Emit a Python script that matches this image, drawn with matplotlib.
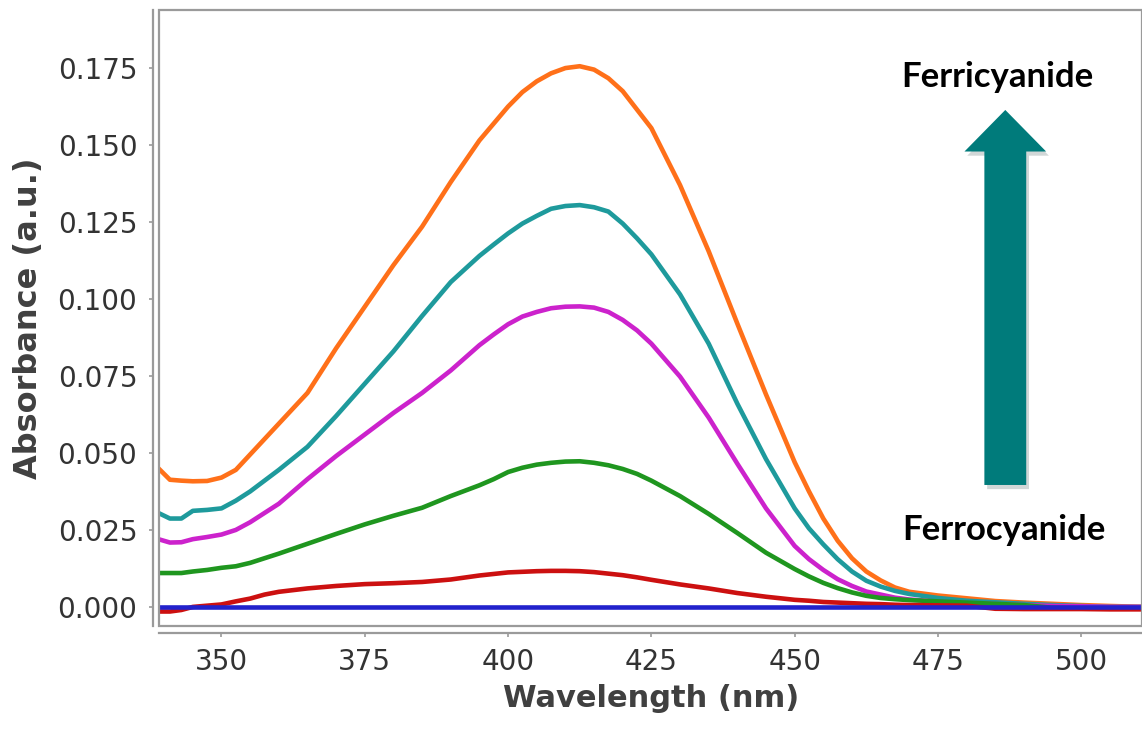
import numpy as np
import matplotlib
matplotlib.use("Agg")
import matplotlib.pyplot as plt
from matplotlib.patches import FancyArrow, Rectangle
import matplotlib.patheffects as pe

# wavelength grid (nm)
wl = [339, 341, 343, 345, 347.5, 350, 352.5, 355, 357.5, 360,
      365, 370, 375, 380, 385, 390, 395,
      397.5, 400, 402.5, 405, 407.5, 410, 412.5, 415, 417.5, 420, 422.5, 425,
      430, 435, 440, 445, 450,
      452.5, 455, 457.5, 460, 462.5, 465, 467.5, 470,
      475, 480, 485, 490, 495, 500, 505, 511]

orange = [0.045, 0.0413, 0.041, 0.0408, 0.0409, 0.042, 0.0445, 0.0495, 0.0545, 0.0595,
          0.0695, 0.084, 0.0975, 0.111, 0.1235, 0.138, 0.1515,
          0.157, 0.1625, 0.1672, 0.1707, 0.1733, 0.1750, 0.1756, 0.1745, 0.1717, 0.1675, 0.1615, 0.1555,
          0.137, 0.1155, 0.092, 0.069, 0.047,
          0.0375, 0.0287, 0.0215, 0.0158, 0.0115, 0.0086, 0.0063, 0.0049,
          0.0037, 0.0028, 0.0019, 0.0014, 0.001, 0.0006, 0.0003, 0.0]
teal = [0.0305, 0.0287, 0.0287, 0.0312, 0.0315, 0.032, 0.0345, 0.0375, 0.041, 0.0445,
        0.052, 0.062, 0.0725, 0.083, 0.0945, 0.1055, 0.114,
        0.1177, 0.1213, 0.1245, 0.127, 0.1293, 0.1302, 0.1305, 0.1298, 0.1284, 0.1245, 0.1197, 0.1145,
        0.1015, 0.0855, 0.066, 0.048, 0.032,
        0.0255, 0.0203, 0.0155, 0.0115, 0.0085, 0.0066, 0.0052, 0.0042,
        0.0029, 0.002, 0.0015, 0.001, 0.0006, 0.0003, 0.0, 0.0]
magenta = [0.022, 0.0209, 0.021, 0.022, 0.0227, 0.0235, 0.025, 0.0275, 0.0305, 0.0335,
           0.0415, 0.049, 0.056, 0.063, 0.0695, 0.0768, 0.085,
           0.0885, 0.0918, 0.0943, 0.0958, 0.097, 0.0975, 0.0976, 0.0972, 0.0958, 0.0932, 0.0898, 0.0855,
           0.0748, 0.0615, 0.0465, 0.032, 0.0198,
           0.0155, 0.012, 0.009, 0.0068, 0.005, 0.004, 0.003, 0.0024,
           0.0017, 0.0012, 0.0009, 0.0006, 0.0003, 0.0002, 0.0, 0.0]
green = [0.011, 0.011, 0.011, 0.0115, 0.012, 0.0127, 0.0132, 0.0143, 0.0158, 0.0173,
         0.0205, 0.0237, 0.0268, 0.0296, 0.0322, 0.036, 0.0395,
         0.0415, 0.0438, 0.0452, 0.0462, 0.0468, 0.0472, 0.0473, 0.0468, 0.046, 0.0448, 0.0432, 0.041,
         0.036, 0.0302, 0.024, 0.0176, 0.0123,
         0.0099, 0.0078, 0.0061, 0.0047, 0.0036, 0.0029, 0.0025, 0.0022,
         0.0018, 0.0014, 0.001, 0.0006, -0.0003, -0.0005, -0.0005, -0.0005]
red = [-0.0015, -0.0015, -0.001, 0.0, 0.0004, 0.0008, 0.0018, 0.0027, 0.004, 0.0049,
       0.006, 0.0068, 0.0074, 0.0077, 0.0081, 0.0089, 0.0102,
       0.0107, 0.0112, 0.0114, 0.0116, 0.0117, 0.0117, 0.0116, 0.0113, 0.0108, 0.0103, 0.0096, 0.0088,
       0.0073, 0.006, 0.0045, 0.0033, 0.0023,
       0.002, 0.0016, 0.0014, 0.0012, 0.001, 0.0009, 0.0007, 0.0006,
       0.0005, 0.0004, -0.0006, -0.0007, -0.0007, -0.0007, -0.0008, -0.0008]
blue = [0.0] * len(wl)

series = [orange, teal, magenta, green, red, blue]
colors = ['#FF7019', '#1E9A9C', '#CC22CC', '#1F961F', '#CC1010', '#2222CC']

xticks = [350, 375, 400, 425, 450, 475, 500]
yticks = [0.000, 0.025, 0.050, 0.075, 0.100, 0.125, 0.150, 0.175]

fig = plt.figure(figsize=(11.42, 7.29), dpi=100)
ax = fig.add_axes([0.1395, 0.1413, 0.8605, 0.8443])

for ys, c in zip(series, colors):
    ax.plot(wl, ys, color=c, lw=3.3, solid_joinstyle='round',
            solid_capstyle='butt')

ax.set_xlim(339.15, 510.6)
ax.set_ylim(-0.0062, 0.1937)

# frame around plotting area
grey = '#9A9A9A'
ax.add_patch(Rectangle((0, 0), 1, 1, transform=ax.transAxes, fill=False,
                       edgecolor=grey, lw=1.6, clip_on=False, zorder=5))

for s in ['top', 'right']:
    ax.spines[s].set_visible(False)
ax.spines['left'].set_position(('outward', 4.8))
ax.spines['bottom'].set_position(('outward', 4.8))
for s in ['left', 'bottom']:
    ax.spines[s].set_color(grey)
    ax.spines[s].set_linewidth(1.6)

ax.set_xticks(xticks)
ax.set_yticks(yticks)
ax.set_yticklabels([f'{v:.3f}' for v in yticks])
ax.tick_params(axis='both', direction='out', length=3, width=1.2,
               color=grey, labelsize=20, labelcolor='#333333')
ax.tick_params(axis='y', pad=8)
ax.tick_params(axis='x', pad=8)

ax.set_xlabel('Wavelength (nm)', fontsize=22, fontweight='bold',
              color='#404040', labelpad=6)
ax.set_ylabel('Absorbance (a.u.)', fontsize=23, fontweight='bold',
              color='#404040', labelpad=10)

# arrow from ferrocyanide to ferricyanide
arrow = FancyArrow(486.75, 0.0396, 0, 0.1218, width=7.3, head_width=14.25,
                   head_length=0.0135, length_includes_head=True,
                   color='#007B7B', lw=0, zorder=6)
arrow.set_path_effects([pe.SimplePatchShadow(offset=(2, -3), alpha=0.18),
                        pe.Normal()])
ax.add_patch(arrow)

ax.text(0.873, 0.881, 'Ferricyanide', transform=fig.transFigure, ha='center',
        va='baseline', fontsize=25, fontweight='bold', family='Lato',
        color='black')
ax.text(0.879, 0.259, 'Ferrocyanide', transform=fig.transFigure, ha='center',
        va='baseline', fontsize=25, fontweight='bold', family='Lato',
        color='black')

fig.savefig('out.png', dpi=100)
